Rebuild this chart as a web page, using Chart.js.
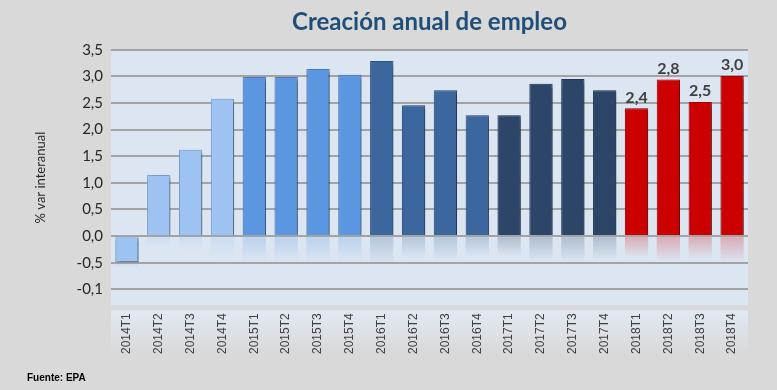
<!DOCTYPE html>
<html>
<head>
<meta charset="utf-8">
<script src="https://cdn.jsdelivr.net/npm/chart.js@4/dist/chart.umd.min.js"></script>
<style>
  html, body { margin: 0; padding: 0; background: #d9d9d9; }
  #wrap { width: 777px; height: 390px; position: relative; }
</style>
</head>
<body>
<div id="wrap"><canvas id="empleoChart" width="777" height="390"></canvas></div>
<script>
// Datos
const trimestres = ['2014T1', '2014T2', '2014T3', '2014T4',
                    '2015T1', '2015T2', '2015T3', '2015T4',
                    '2016T1', '2016T2', '2016T3', '2016T4',
                    '2017T1', '2017T2', '2017T3', '2017T4',
                    '2018T1', '2018T2', '2018T3', '2018T4'];
const variacion = [-0.49, 1.15, 1.62, 2.58,
                   2.99, 2.99, 3.14, 3.03,
                   3.29, 2.46, 2.74, 2.27,
                   2.27, 2.86, 2.95, 2.74,
                   2.40, 2.94, 2.52, 3.01];
// Etiquetas de valor (solo 2018)
const etiquetas = ['', '', '', '', '', '', '', '', '', '', '', '', '', '', '', '',
                   '2,4', '2,8', '2,5', '3,0'];
const ticksY = [3.5, 3.0, 2.5, 2.0, 1.5, 1.0, 0.5, 0.0, -0.5, -1.0];
const ticksYTexto = ['3,5', '3,0', '2,5', '2,0', '1,5', '1,0', '0,5', '0,0', '-0,5', '-0,1'];

// Colores por año
const coloresAnio = {
    '2014': '#9dc3f2',
    '2015': '#5b96e0',
    '2016': '#3c679e',
    '2017': '#2b4668',
    '2018': '#cc0000'
};
const bordesAnio = {
    '2014': '#7fa6d6',
    '2015': '#4a7fc4',
    '2016': '#30558a',
    '2017': '#223a58',
    '2018': '#b00000'
};

function hexToRgba(hex, a) {
    const n = parseInt(hex.slice(1), 16);
    return 'rgba(' + (n >> 16) + ',' + ((n >> 8) & 255) + ',' + (n & 255) + ',' + a + ')';
}

// Fondo del área del gráfico y banda de etiquetas
const fondoPlugin = {
    id: 'fondo',
    beforeDraw(chart) {
        const { ctx, chartArea } = chart;
        ctx.save();
        ctx.fillStyle = '#d9d9d9';
        ctx.fillRect(0, 0, chart.width, chart.height);
        ctx.fillStyle = '#dce6f2';
        ctx.fillRect(chartArea.left, chartArea.top, chartArea.right - chartArea.left, chartArea.bottom - chartArea.top);
        const g = ctx.createLinearGradient(0, chartArea.bottom + 5, 0, chartArea.bottom + 48);
        g.addColorStop(0, '#e1e9f3');
        g.addColorStop(1, 'rgba(217,217,217,1)');
        ctx.fillStyle = g;
        ctx.fillRect(chartArea.left, chartArea.bottom + 5, chartArea.right - chartArea.left, 43);
        ctx.restore();
    }
};

// Reflejo bajo la línea de cero
const reflejoPlugin = {
    id: 'reflejo',
    beforeDatasetsDraw(chart) {
        const { ctx } = chart;
        const meta = chart.getDatasetMeta(0);
        ctx.save();
        meta.data.forEach((bar, i) => {
            const color = coloresAnio[trimestres[i].slice(0, 4)];
            const alto = Math.abs(bar.base - bar.y);
            const inicio = Math.max(bar.base, bar.y) + 2;
            const h = Math.max(3, alto * 0.16);
            const g = ctx.createLinearGradient(0, inicio, 0, inicio + h);
            g.addColorStop(0, hexToRgba(color, 0.25));
            g.addColorStop(1, hexToRgba(color, 0));
            ctx.fillStyle = g;
            ctx.fillRect(bar.x - bar.width / 2, inicio, bar.width, h);
        });
        ctx.restore();
    }
};

// Sombra de las barras
const sombraPlugin = {
    id: 'sombra',
    beforeDatasetDraw(chart) {
        const ctx = chart.ctx;
        ctx.save();
        ctx.shadowColor = 'rgba(0,0,0,0.5)';
        ctx.shadowBlur = 4;
        ctx.shadowOffsetX = 2;
        ctx.shadowOffsetY = 2;
    },
    afterDatasetDraw(chart) {
        chart.ctx.restore();
    }
};

// Etiquetas de valor y fuente
const textosPlugin = {
    id: 'textos',
    afterDatasetsDraw(chart) {
        const { ctx } = chart;
        const meta = chart.getDatasetMeta(0);
        ctx.save();
        ctx.font = 'bold 16px Lato, "Open Sans", sans-serif';
        ctx.fillStyle = '#404040';
        ctx.textAlign = 'center';
        ctx.textBaseline = 'bottom';
        meta.data.forEach((bar, i) => {
            if (etiquetas[i]) ctx.fillText(etiquetas[i], bar.x, bar.y - 3);
        });
        ctx.font = 'bold 10px "Liberation Sans", Arial, sans-serif';
        ctx.fillStyle = '#000000';
        ctx.textAlign = 'left';
        ctx.textBaseline = 'middle';
        ctx.fillText('Fuente: EPA', 27, 378);
        ctx.restore();
    }
};

const ctx = document.getElementById('empleoChart');

new Chart(ctx, {
    type: 'bar',
    data: {
        labels: trimestres,
        datasets: [{
            label: '% var interanual',
            data: variacion,
            backgroundColor: trimestres.map(t => coloresAnio[t.slice(0, 4)]),
            borderColor: trimestres.map(t => bordesAnio[t.slice(0, 4)]),
            borderWidth: 1,
            barPercentage: 0.73,
            categoryPercentage: 1.0
        }]
    },
    options: {
        responsive: false,
        animation: false,
        layout: {
            padding: { left: 30, right: 29, top: 0, bottom: 36 }
        },
        plugins: {
            legend: { display: false },
            tooltip: { enabled: false },
            title: {
                display: true,
                fullSize: false,
                text: 'Creación anual de empleo',
                color: '#1f4e79',
                font: { family: 'Lato, "Open Sans", sans-serif', size: 24, weight: 'bold' },
                padding: { top: 8, bottom: 13 }
            }
        },
        scales: {
            y: {
                min: -1.3,
                max: 3.5,
                afterBuildTicks(axis) {
                    axis.ticks = ticksY.map(v => ({ value: v }));
                },
                ticks: {
                    padding: 8,
                    color: '#262626',
                    font: { family: 'Lato, "Open Sans", sans-serif', size: 15 },
                    callback: function(value) {
                        const i = ticksY.indexOf(value);
                        return i >= 0 ? ticksYTexto[i] : '';
                    }
                },
                grid: {
                    color: '#a3a3a3',
                    lineWidth: 2,
                    drawTicks: false
                },
                border: { display: false },
                title: {
                    display: true,
                    text: '% var interanual',
                    color: '#262626',
                    font: { family: 'Lato, "Open Sans", sans-serif', size: 13 },
                    padding: { top: 3, bottom: 20 }
                }
            },
            x: {
                ticks: {
                    minRotation: 90,
                    maxRotation: 90,
                    padding: 0,
                    color: '#404040',
                    font: { family: '"Liberation Sans", Arial, sans-serif', size: 12 }
                },
                grid: { display: false },
                border: { display: false }
            }
        }
    },
    plugins: [fondoPlugin, reflejoPlugin, sombraPlugin, textosPlugin]
});
</script>
</body>
</html>
